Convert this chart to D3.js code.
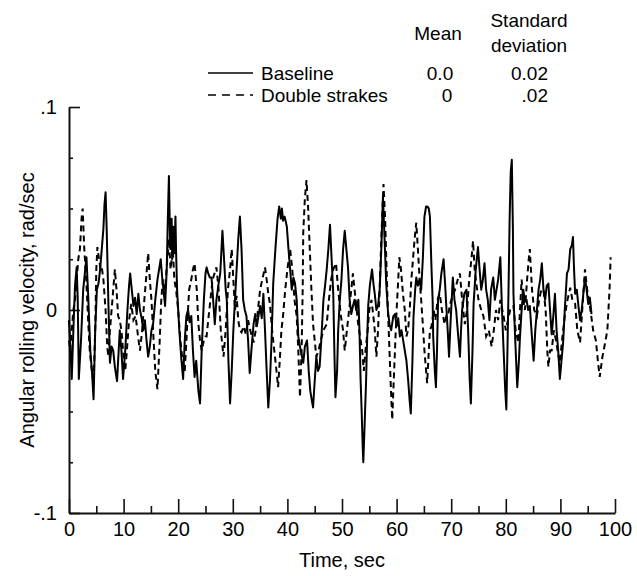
<!DOCTYPE html>
<html>
<head>
<meta charset="utf-8">
<script src="https://cdn.jsdelivr.net/npm/d3@7"></script>
<style>
  html, body { margin: 0; padding: 0; background: #fff; }
  svg { display: block; font-family: "Liberation Sans", Arial, Helvetica, sans-serif; }
</style>
</head>
<body>
<svg id="chart" width="637" height="576"></svg>
<script>
// ---------- data ----------
const baselineTime = [0.0,0.3,0.5,0.8,1.1,1.4,1.6,1.8,2.2,2.6,2.9,3.2,3.5,3.9,4.2,4.5,4.8,5.1,5.4,5.7,6.0,6.3,6.5,6.7,6.9,7.2,7.5,7.8,8.1,8.4,8.8,9.1,9.3,9.6,9.9,10.3,10.7,11.0,11.2,11.5,11.8,12.1,12.4,12.7,13.0,13.3,13.6,13.9,14.2,14.5,14.8,15.1,15.4,15.8,16.2,16.5,16.8,17.1,17.3,17.6,17.9,18.1,18.3,18.5,18.6,18.8,18.9,19.1,19.3,19.5,19.6,19.8,20.2,20.6,20.9,21.2,21.5,21.8,22.1,22.4,22.7,23.0,23.3,23.7,24.0,24.3,24.7,25.0,25.2,25.5,25.8,26.1,26.4,26.7,27.0,27.4,27.7,28.1,28.4,28.7,28.9,29.2,29.5,29.8,30.1,30.4,30.7,31.0,31.3,31.6,31.9,32.2,32.5,32.8,33.1,33.4,33.8,34.1,34.4,34.7,35.0,35.3,35.6,35.9,36.2,36.5,36.8,37.1,37.4,37.8,38.2,38.5,38.8,39.0,39.2,39.5,39.9,40.2,40.5,40.8,41.1,41.4,41.7,42.0,42.3,42.6,42.9,43.2,43.6,43.9,44.2,44.5,44.7,45.0,45.3,45.6,45.9,46.2,46.6,46.9,47.2,47.5,47.8,48.1,48.4,48.6,48.8,49.1,49.3,49.6,49.9,50.2,50.5,50.8,51.1,51.4,51.7,52.0,52.3,52.6,53.0,53.2,53.4,53.6,53.8,53.9,54.1,54.4,54.6,54.8,55.1,55.5,55.8,56.0,56.3,56.6,56.9,57.2,57.5,57.8,58.1,58.4,58.7,59.0,59.4,59.7,60.0,60.3,60.6,60.9,61.2,61.5,61.8,62.1,62.4,62.6,62.9,63.1,63.4,63.6,63.9,64.2,64.5,64.8,65.1,65.4,65.6,65.9,66.1,66.4,66.6,66.7,67.0,67.2,67.4,67.6,67.9,68.2,68.6,68.9,69.1,69.4,69.6,69.9,70.3,70.6,70.9,71.2,71.6,71.8,72.0,72.4,72.8,73.1,73.4,73.6,73.9,74.1,74.5,74.9,75.2,75.5,75.8,76.1,76.4,76.7,77.0,77.3,77.7,78.0,78.3,78.6,79.0,79.3,79.6,79.9,80.1,80.3,80.5,80.7,80.9,81.1,81.3,81.4,81.7,82.1,82.4,82.6,82.9,83.2,83.5,83.8,84.1,84.4,84.7,85.1,85.4,85.7,86.0,86.3,86.6,86.9,87.2,87.5,87.8,88.1,88.4,88.7,89.0,89.3,89.6,89.9,90.2,90.5,90.8,91.2,91.5,91.8,92.1,92.3,92.5,92.7,93.0,93.3,93.6,93.9,94.2,94.5,94.8,95.1,95.4,95.7];
const baselineValue = [-0.005,-0.02,-0.034,-0.01,0.012,0.021,0.005,-0.034,-0.015,0.01,0.018,0.026,0.008,-0.02,-0.03,-0.044,-0.01,0.01,0.013,0.02,0.03,0.04,0.052,0.058,0.04,0.005,-0.026,-0.018,-0.02,-0.028,-0.035,-0.02,-0.01,-0.02,-0.034,-0.02,0.0,0.012,0.018,0.01,0.002,0.006,-0.002,0.008,0.0,-0.004,-0.01,-0.005,-0.015,-0.023,-0.018,-0.01,-0.007,0.005,0.015,0.02,0.025,0.015,0.01,0.002,0.02,0.045,0.066,0.035,0.03,0.045,0.025,0.041,0.028,0.046,0.03,0.01,-0.01,-0.025,-0.034,-0.015,-0.003,0.0,-0.006,-0.003,-0.02,-0.033,-0.025,-0.04,-0.046,-0.02,0.005,0.018,0.021,0.018,0.016,0.016,0.005,-0.007,0.005,0.013,0.018,0.039,0.025,0.01,0.005,-0.025,-0.046,-0.03,-0.01,0.005,0.02,0.035,0.046,0.03,0.005,0.0,-0.003,-0.015,-0.031,-0.02,-0.007,-0.002,-0.008,-0.003,0.002,-0.004,0.008,-0.01,-0.03,-0.048,-0.035,-0.015,0.013,0.03,0.045,0.051,0.045,0.05,0.044,0.046,0.041,0.03,0.02,0.01,0.016,0.013,0.005,-0.013,-0.018,-0.022,-0.026,-0.018,-0.015,-0.03,-0.04,-0.045,-0.048,-0.035,-0.023,-0.03,-0.028,-0.015,0.005,0.012,0.02,0.03,0.042,0.025,0.008,-0.02,-0.043,-0.03,-0.01,0.005,0.015,0.03,0.039,0.03,0.021,0.005,-0.002,0.002,0.005,0.0,0.005,-0.01,-0.034,-0.05,-0.068,-0.075,-0.06,-0.036,-0.015,0.002,0.012,0.02,0.012,0.008,0.0,0.002,0.01,0.03,0.056,0.035,0.013,0.0,-0.007,-0.01,-0.003,-0.002,-0.008,-0.004,-0.013,-0.01,-0.015,-0.02,-0.025,-0.034,-0.045,-0.051,-0.025,-0.003,0.01,0.016,0.012,0.015,0.01,0.025,0.046,0.051,0.051,0.05,0.046,0.02,0.005,-0.013,-0.03,-0.038,-0.02,0.005,0.01,0.018,0.025,0.012,0.002,-0.012,-0.023,-0.005,0.016,0.005,0.0,-0.01,-0.023,-0.01,0.0,0.008,0.01,-0.01,-0.035,-0.046,-0.02,0.003,0.02,0.031,0.02,0.01,0.015,0.023,0.01,0.005,-0.005,0.01,0.016,0.005,0.01,0.015,0.026,0.0,-0.02,-0.04,-0.049,-0.02,0.01,0.045,0.068,0.074,0.04,0.008,-0.013,-0.038,-0.025,-0.013,0.0,0.01,0.004,0.005,0.0,0.002,-0.01,-0.025,-0.01,0.0,0.01,0.015,0.023,0.01,0.005,0.012,0.013,0.0,-0.012,-0.003,0.008,-0.01,-0.02,-0.034,-0.025,-0.016,0.0,0.018,0.02,0.03,0.032,0.036,0.02,0.008,0.01,0.002,-0.005,0.0,0.008,0.016,0.01,0.003,0.006,-0.002];

const strakesTime = [0.0,0.2,0.5,0.8,1.1,1.4,1.7,2.0,2.3,2.5,2.8,3.2,3.5,3.8,4.1,4.5,4.8,5.0,5.2,5.5,5.8,6.0,6.3,6.7,7.0,7.2,7.5,7.8,8.1,8.4,8.7,9.0,9.3,9.6,9.9,10.3,10.6,11.0,11.4,11.8,12.2,12.6,13.0,13.4,13.8,14.2,14.5,14.8,15.1,15.5,15.8,16.2,16.6,16.9,17.2,17.6,18.0,18.3,18.6,19.0,19.3,19.6,20.0,20.4,20.8,21.2,21.6,22.0,22.4,22.7,23.0,23.4,23.7,24.0,24.3,24.7,25.0,25.2,25.5,25.9,26.3,27.0,27.4,27.8,28.3,28.7,29.1,29.5,29.8,30.1,30.4,30.7,31.0,31.3,31.6,32.0,32.4,32.8,33.2,33.8,34.2,34.6,35.0,35.4,35.9,36.2,36.5,36.8,37.2,37.6,38.0,38.3,38.6,38.9,39.2,39.6,40.0,40.5,40.9,41.3,41.7,42.0,42.3,42.6,42.8,42.9,43.2,43.5,43.8,44.1,44.4,44.7,45.0,45.3,45.7,46.1,46.6,47.2,47.6,48.0,48.4,48.9,49.3,49.8,50.2,50.5,50.9,51.3,51.7,52.0,52.3,52.7,53.0,53.3,53.7,54.0,54.3,54.7,55.0,55.4,55.7,56.0,56.3,56.6,56.9,57.2,57.6,57.9,58.1,58.4,58.6,58.9,59.2,59.4,59.7,60.0,60.3,60.5,60.8,61.2,61.5,61.8,62.1,62.4,62.7,63.0,63.3,63.6,63.9,64.2,64.5,64.8,65.1,65.4,65.6,65.9,66.1,66.4,66.8,67.1,67.5,67.9,68.3,68.8,69.1,69.4,69.8,70.3,70.7,71.2,71.6,72.0,72.5,72.9,73.3,73.7,74.0,74.3,74.6,75.0,75.5,75.9,76.4,76.9,77.4,77.8,78.2,78.6,79.0,79.6,80.0,80.4,80.8,81.4,81.8,82.3,82.6,82.9,83.2,83.5,83.9,84.2,84.4,84.8,85.2,85.7,86.1,86.5,86.9,87.3,87.6,87.8,88.1,88.4,88.8,89.2,89.6,89.9,90.3,90.8,91.3,91.8,92.2,92.7,93.1,93.6,94.0,94.5,94.9,95.4,96.0,96.5,96.9,97.2,97.7,98.2,98.6,99.0,99.2];
const strakesValue = [-0.015,-0.02,-0.01,0.0,0.005,0.015,0.025,0.03,0.045,0.05,0.03,0.013,-0.005,-0.02,-0.028,-0.036,-0.01,0.02,0.031,0.025,0.02,0.021,0.015,0.0,-0.018,-0.023,-0.01,0.0,0.01,0.02,0.01,-0.003,-0.005,-0.01,-0.02,-0.03,-0.02,-0.005,0.003,-0.005,-0.003,-0.012,-0.02,-0.01,0.005,0.018,0.028,0.015,0.005,-0.015,-0.03,-0.039,-0.016,0.005,0.015,0.01,0.025,0.035,0.02,0.03,0.015,0.01,0.0,-0.015,-0.025,-0.03,-0.01,0.01,0.015,0.02,0.023,0.01,-0.007,-0.015,-0.02,-0.015,-0.013,-0.013,-0.005,0.005,0.015,0.021,0.01,-0.01,-0.023,-0.01,0.01,0.02,0.03,0.015,0.0,0.007,-0.005,-0.01,-0.011,-0.008,-0.012,-0.005,-0.01,-0.016,-0.01,0.0,0.01,0.015,0.021,0.015,0.008,0.003,-0.01,-0.02,-0.03,-0.038,-0.025,-0.01,-0.003,0.01,0.02,0.03,0.02,0.005,-0.003,-0.02,-0.043,-0.02,0.01,0.038,0.055,0.064,0.05,0.03,0.01,-0.007,-0.015,-0.023,-0.02,-0.015,-0.01,-0.007,0.005,0.015,0.02,0.023,0.01,-0.003,-0.01,-0.02,-0.01,0.0,0.01,0.018,0.01,0.0,-0.008,-0.013,-0.02,-0.03,-0.02,-0.01,0.0,0.005,-0.002,-0.01,-0.023,-0.01,0.01,0.035,0.062,0.045,0.026,0.0,-0.013,-0.035,-0.054,-0.04,-0.02,0.0,0.015,0.026,0.02,0.007,0.0,-0.013,-0.01,0.0,0.015,0.025,0.035,0.043,0.03,0.016,0.005,-0.007,-0.02,-0.03,-0.036,-0.02,-0.01,-0.008,0.0,-0.005,0.005,0.008,0.0,-0.007,-0.003,-0.003,0.003,0.007,0.01,0.015,0.018,0.005,-0.007,0.0,0.015,0.025,0.034,0.02,0.013,0.005,0.0,-0.003,-0.013,-0.01,-0.018,-0.01,0.0,-0.005,0.005,-0.003,-0.01,-0.005,0.0,0.002,-0.01,-0.016,0.0,0.015,0.005,0.0,0.015,0.025,0.03,0.01,0.0,-0.003,0.005,0.01,0.01,0.0,-0.02,-0.028,-0.02,-0.02,-0.01,-0.015,-0.022,-0.026,-0.015,-0.003,0.005,0.011,0.005,0.003,-0.01,-0.016,0.0,0.02,0.01,0.002,-0.01,-0.015,-0.026,-0.033,-0.023,-0.016,-0.01,0.01,0.026];

const xTickMajor = [0,10,20,30,40,50,60,70,80,90,100];
const xTickMinor = [5,15,25,35,45,55,65,75,85,95];
const yTickMajor = [0.1, 0, -0.1];
const yTickLabels = [".1", "0", "-.1"];
const yTickMinor = [0.075, 0.05, 0.025, -0.025, -0.05, -0.075];

const seriesNames = ["Baseline", "Double strakes"];
const seriesMeans = ["0.0", "0"];
const seriesStds = ["0.02", ".02"];

const xTitle = "Time, sec";
const yTitle = "Angular rolling velocity, rad/sec";

// ---------- drawing ----------
const svg = d3.select("#chart");
const FONT = 20;
const LEGEND_FONT = 19;

const x = d3.scaleLinear().domain([0, 100]).range([69, 615]);
const y = d3.scaleLinear().domain([-0.1, 0.1]).range([513, 107]);

const axisColor = "#111";

// X axis: minor ticks
svg.append("g")
  .attr("transform", `translate(0,${y(-0.1)})`)
  .call(d3.axisBottom(x).tickValues(xTickMinor).tickSize(-7).tickFormat(""))
  .call(g => g.select(".domain").remove())
  .call(g => g.selectAll("line").attr("stroke", axisColor).attr("stroke-width", 1.6));

// X axis: major ticks + labels
svg.append("g")
  .attr("transform", `translate(0,${y(-0.1)})`)
  .call(d3.axisBottom(x).tickValues(xTickMajor).tickSizeInner(-14).tickSizeOuter(0).tickPadding(9))
  .call(g => g.select(".domain").attr("stroke", axisColor).attr("stroke-width", 2))
  .call(g => g.selectAll("line").attr("stroke", axisColor).attr("stroke-width", 1.6))
  .call(g => g.selectAll("text").attr("font-size", FONT).attr("fill", "#000")
      .attr("font-family", "Liberation Sans, Arial, sans-serif"));

// Y axis: minor ticks
svg.append("g")
  .attr("transform", `translate(${x(0)},0)`)
  .call(d3.axisLeft(y).tickValues(yTickMinor).tickSize(-4).tickFormat(""))
  .call(g => g.select(".domain").remove())
  .call(g => g.selectAll("line").attr("stroke", axisColor).attr("stroke-width", 1.6));

// Y axis: major ticks + labels
svg.append("g")
  .attr("transform", `translate(${x(0)},0)`)
  .call(d3.axisLeft(y).tickValues(yTickMajor).tickSizeInner(-11).tickSizeOuter(0).tickPadding(12)
        .tickFormat((d, i) => yTickLabels[i]))
  .call(g => g.select(".domain").attr("stroke", axisColor).attr("stroke-width", 2))
  .call(g => g.selectAll("line").attr("stroke", axisColor).attr("stroke-width", 1.6))
  .call(g => g.selectAll("text").attr("font-size", FONT).attr("fill", "#000")
      .attr("font-family", "Liberation Sans, Arial, sans-serif"));

// Axis titles
svg.append("text")
  .attr("x", (x(0) + x(100)) / 2)
  .attr("y", 567)
  .attr("text-anchor", "middle")
  .attr("font-size", FONT)
  .text(xTitle);

svg.append("text")
  .attr("transform", `translate(34,${(y(0.1) + y(-0.1)) / 2}) rotate(-90)`)
  .attr("text-anchor", "middle")
  .attr("font-size", FONT)
  .text(yTitle);

// Data lines
const baseData = baselineTime.map((t, i) => [t, baselineValue[i]]);
const strakeData = strakesTime.map((t, i) => [t, strakesValue[i]]);
const line = d3.line().x(d => x(d[0])).y(d => y(d[1]));

svg.append("path")
  .datum(strakeData)
  .attr("d", line)
  .attr("fill", "none")
  .attr("stroke", "#000")
  .attr("stroke-width", 2)
  .attr("stroke-dasharray", "6,4");

svg.append("path")
  .datum(baseData)
  .attr("d", line)
  .attr("fill", "none")
  .attr("stroke", "#000")
  .attr("stroke-width", 2)
  .attr("stroke-linejoin", "round");

// Legend
const lg = svg.append("g").attr("font-size", LEGEND_FONT);
lg.append("text").attr("x", 438).attr("y", 40).attr("text-anchor", "middle").text("Mean");
lg.append("text").attr("x", 529).attr("y", 27).attr("text-anchor", "middle").text("Standard");
lg.append("text").attr("x", 529).attr("y", 52).attr("text-anchor", "middle").text("deviation");

const rowY = [80, 102];
const dashes = [null, "8,6"];
const meanX = [440, 447];
seriesNames.forEach((name, i) => {
  lg.append("line")
    .attr("x1", 208).attr("x2", 253)
    .attr("y1", rowY[i] - 7).attr("y2", rowY[i] - 7)
    .attr("stroke", "#000").attr("stroke-width", 1.6)
    .attr("stroke-dasharray", dashes[i]);
  lg.append("text").attr("x", 261).attr("y", rowY[i]).text(name);
  lg.append("text").attr("x", meanX[i]).attr("y", rowY[i]).attr("text-anchor", "middle").text(seriesMeans[i]);
  lg.append("text").attr("x", 548).attr("y", rowY[i]).attr("text-anchor", "end").text(seriesStds[i]);
});
</script>
</body>
</html>
